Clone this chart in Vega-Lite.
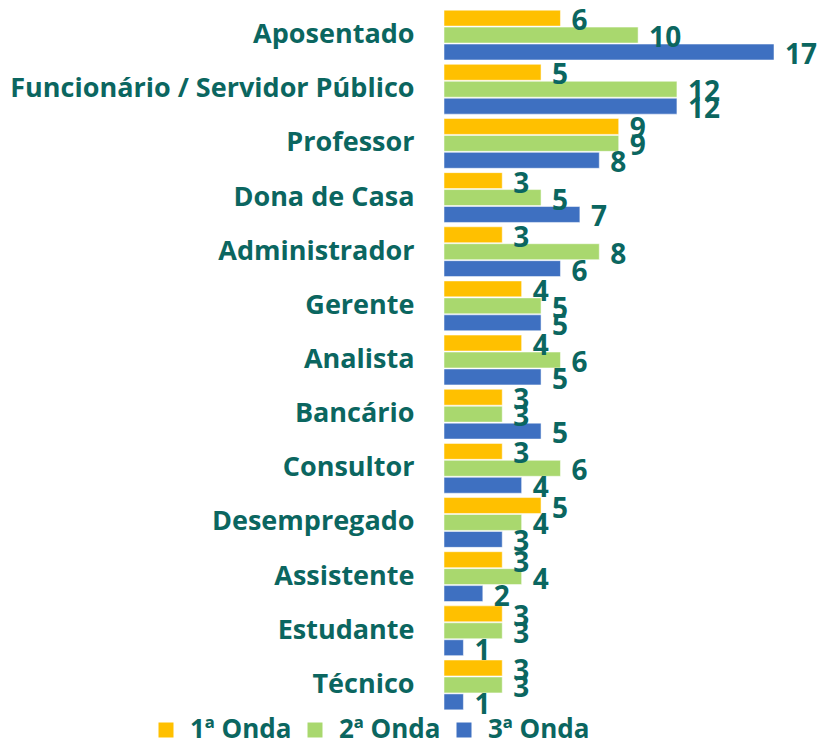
{
  "$schema": "https://vega.github.io/schema/vega-lite/v6.json",
  "width": 330,
  "height": 704,
  "autosize": "none",
  "padding": {"left": 444, "top": 8, "right": 51, "bottom": 34},
  "background": "white",
  "config": {"view": {"stroke": null}, "font": "Open Sans"},
  "data": {"values": [
    {"cat": "Aposentado", "serie": "1ª Onda", "v": 6},
    {"cat": "Aposentado", "serie": "2ª Onda", "v": 10},
    {"cat": "Aposentado", "serie": "3ª Onda", "v": 17},
    {"cat": "Funcionário / Servidor Público", "serie": "1ª Onda", "v": 5},
    {"cat": "Funcionário / Servidor Público", "serie": "2ª Onda", "v": 12},
    {"cat": "Funcionário / Servidor Público", "serie": "3ª Onda", "v": 12},
    {"cat": "Professor", "serie": "1ª Onda", "v": 9},
    {"cat": "Professor", "serie": "2ª Onda", "v": 9},
    {"cat": "Professor", "serie": "3ª Onda", "v": 8},
    {"cat": "Dona de Casa", "serie": "1ª Onda", "v": 3},
    {"cat": "Dona de Casa", "serie": "2ª Onda", "v": 5},
    {"cat": "Dona de Casa", "serie": "3ª Onda", "v": 7},
    {"cat": "Administrador", "serie": "1ª Onda", "v": 3},
    {"cat": "Administrador", "serie": "2ª Onda", "v": 8},
    {"cat": "Administrador", "serie": "3ª Onda", "v": 6},
    {"cat": "Gerente", "serie": "1ª Onda", "v": 4},
    {"cat": "Gerente", "serie": "2ª Onda", "v": 5},
    {"cat": "Gerente", "serie": "3ª Onda", "v": 5},
    {"cat": "Analista", "serie": "1ª Onda", "v": 4},
    {"cat": "Analista", "serie": "2ª Onda", "v": 6},
    {"cat": "Analista", "serie": "3ª Onda", "v": 5},
    {"cat": "Bancário", "serie": "1ª Onda", "v": 3},
    {"cat": "Bancário", "serie": "2ª Onda", "v": 3},
    {"cat": "Bancário", "serie": "3ª Onda", "v": 5},
    {"cat": "Consultor", "serie": "1ª Onda", "v": 3},
    {"cat": "Consultor", "serie": "2ª Onda", "v": 6},
    {"cat": "Consultor", "serie": "3ª Onda", "v": 4},
    {"cat": "Desempregado", "serie": "1ª Onda", "v": 5},
    {"cat": "Desempregado", "serie": "2ª Onda", "v": 4},
    {"cat": "Desempregado", "serie": "3ª Onda", "v": 3},
    {"cat": "Assistente", "serie": "1ª Onda", "v": 3},
    {"cat": "Assistente", "serie": "2ª Onda", "v": 4},
    {"cat": "Assistente", "serie": "3ª Onda", "v": 2},
    {"cat": "Estudante", "serie": "1ª Onda", "v": 3},
    {"cat": "Estudante", "serie": "2ª Onda", "v": 3},
    {"cat": "Estudante", "serie": "3ª Onda", "v": 1},
    {"cat": "Técnico", "serie": "1ª Onda", "v": 3},
    {"cat": "Técnico", "serie": "2ª Onda", "v": 3},
    {"cat": "Técnico", "serie": "3ª Onda", "v": 1}
  ]},
  "encoding": {
    "y": {
      "field": "cat", "type": "nominal", "sort": null,
      "scale": {"paddingInner": 0.08, "paddingOuter": 0.04},
      "axis": {"title": null, "domain": false, "ticks": false, "labelPadding": 30, "labelFontSize": 27, "labelFontWeight": "bold", "labelColor": "#0B6660", "labelLimit": 500}
    },
    "yOffset": {"field": "serie", "type": "nominal", "sort": null, "scale": {"paddingInner": 0.06}},
    "x": {"field": "v", "type": "quantitative", "scale": {"domain": [0, 17], "nice": false}, "axis": null}
  },
  "layer": [
    {
      "mark": {"type": "bar", "stroke": "#ffffff", "strokeOpacity": 0.5, "strokeWidth": 1},
      "encoding": {
        "color": {
          "field": "serie", "type": "nominal",
          "scale": {"domain": ["1ª Onda", "2ª Onda", "3ª Onda"], "range": ["#FFC000", "#A9D86E", "#3E70C1"]},
          "legend": {"orient": "none", "legendX": -291, "legendY": 709, "direction": "horizontal", "title": null, "symbolType": "square", "symbolSize": 225, "symbolStrokeWidth": 0, "labelFontSize": 26, "labelFontWeight": "bold", "labelColor": "#0B6660", "columnPadding": 10, "labelOffset": 11, "labelLimit": 300}
        }
      }
    },
    {
      "mark": {"type": "text", "align": "left", "baseline": "middle", "dx": 11, "dy": 4, "fontSize": 28, "fontWeight": "bold", "color": "#0B6660"},
      "encoding": {"text": {"field": "v", "type": "quantitative"}}
    }
  ]
}
